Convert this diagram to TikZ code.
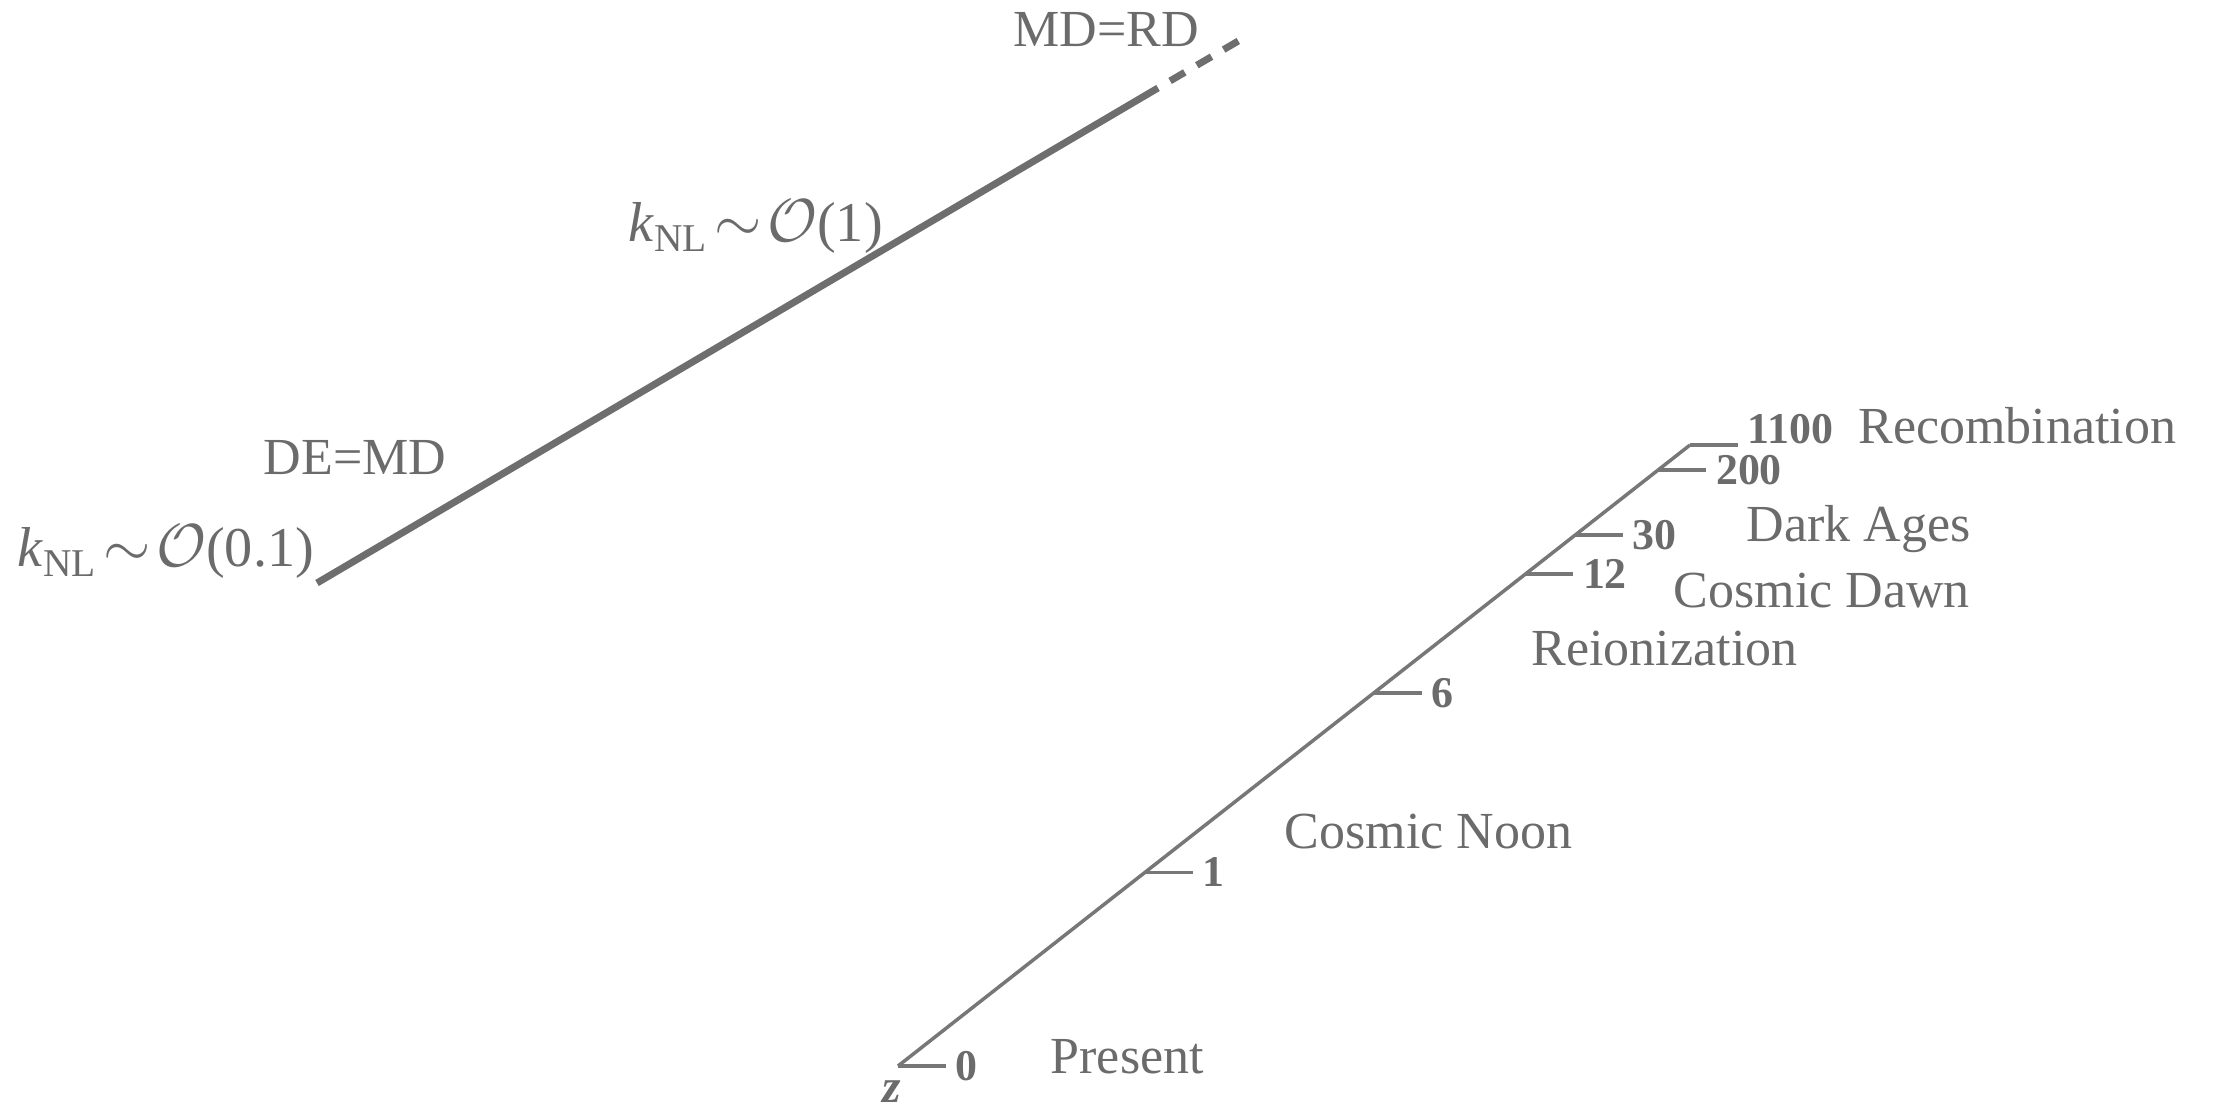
\documentclass[tikz,border=0pt]{standalone}
\usepackage{fontspec}
\setmainfont{Liberation Serif}
\usetikzlibrary{positioning,calc}
\definecolor{EraGray}{HTML}{6B6B6B}
\definecolor{LineGray}{HTML}{6E6E6E}
\definecolor{AxisGray}{HTML}{777777}
\newcommand{\knlscale}[1]{\textit{k}\textsubscript{NL}\kern1.6pt$\sim$\kern1.6pt$\mathcal{O}$(#1)}

\begin{document}
\begin{tikzpicture}[
    x=0.1mm,y=-0.1mm,
    era/.style={text=EraGray,font=\fontsize{14.8}{17}\selectfont,inner sep=0pt,anchor=base west},
    scalelab/.style={text=EraGray,font=\fontsize{16}{19}\selectfont,inner sep=0pt,anchor=base west},
    ticklab/.style={text=EraGray,font=\fontsize{12.5}{14}\selectfont\bfseries,inner sep=0pt},
    knl/.style={line width=0.7mm,draw=LineGray},
    axis/.style={line width=0.35mm,draw=AxisGray}
  ]
  \useasboundingbox (0,0) rectangle (2213,1111);
  % nonlinear scale track
  \coordinate (deq) at (317,583);
  \coordinate (meq) at (1158,88);
  \coordinate (past) at (1240,40);
  \draw[knl] (deq) -- (meq);
  \draw[knl,dash pattern=on 1.7mm off 1.4mm,dash phase=1.7mm] (meq) -- (past);
  \node[era] (mdrd) at (1013,47) {MD=RD};
  \node[era] (demd) at (263,475) {DE=MD};
  \node[scalelab] (knlone) at (628,242) {\knlscale{1}};
  \node[scalelab] (knltenth) at (17,567) {\knlscale{0.1}};
  % redshift axis
  \coordinate (z0) at (898,1066);
  \coordinate (zTop) at (1690,445);
  \draw[axis] (z0) -- (zTop);
  \foreach \t/\zval/\anc in {0/0/west,0.312/1/west,0.601/6/west,0.792/12/west,
      0.855/30/west,0.960/200/west,1/1100/south west}{
    \coordinate (t\zval) at ($(z0)!\t!(zTop)$);
    \draw[axis] (t\zval) -- ++(48,0) coordinate (e\zval);
    \node[ticklab,anchor=\anc,xshift=0.9mm] (l\zval) at (e\zval) {\zval};
  }
  \node[text=EraGray,font=\fontsize{13.5}{15}\selectfont\bfseries\itshape,inner sep=0pt,
    anchor=north] (zname) at ([xshift=-0.6mm,yshift=-1.4mm]z0) {z};
  \node[era] (rec) at ([xshift=2.4mm]l1100.base east) {Recombination};
  \node[era] (dark) at (1746,542) {Dark Ages};
  \node[era] (dawn) at (1673,607) {Cosmic Dawn};
  \node[era] (reion) at (1531,665) {Reionization};
  \node[era] (noon) at (1284,848) {Cosmic Noon};
  \node[era] (present) at (1050,1073) {Present};
\end{tikzpicture}
\end{document}
